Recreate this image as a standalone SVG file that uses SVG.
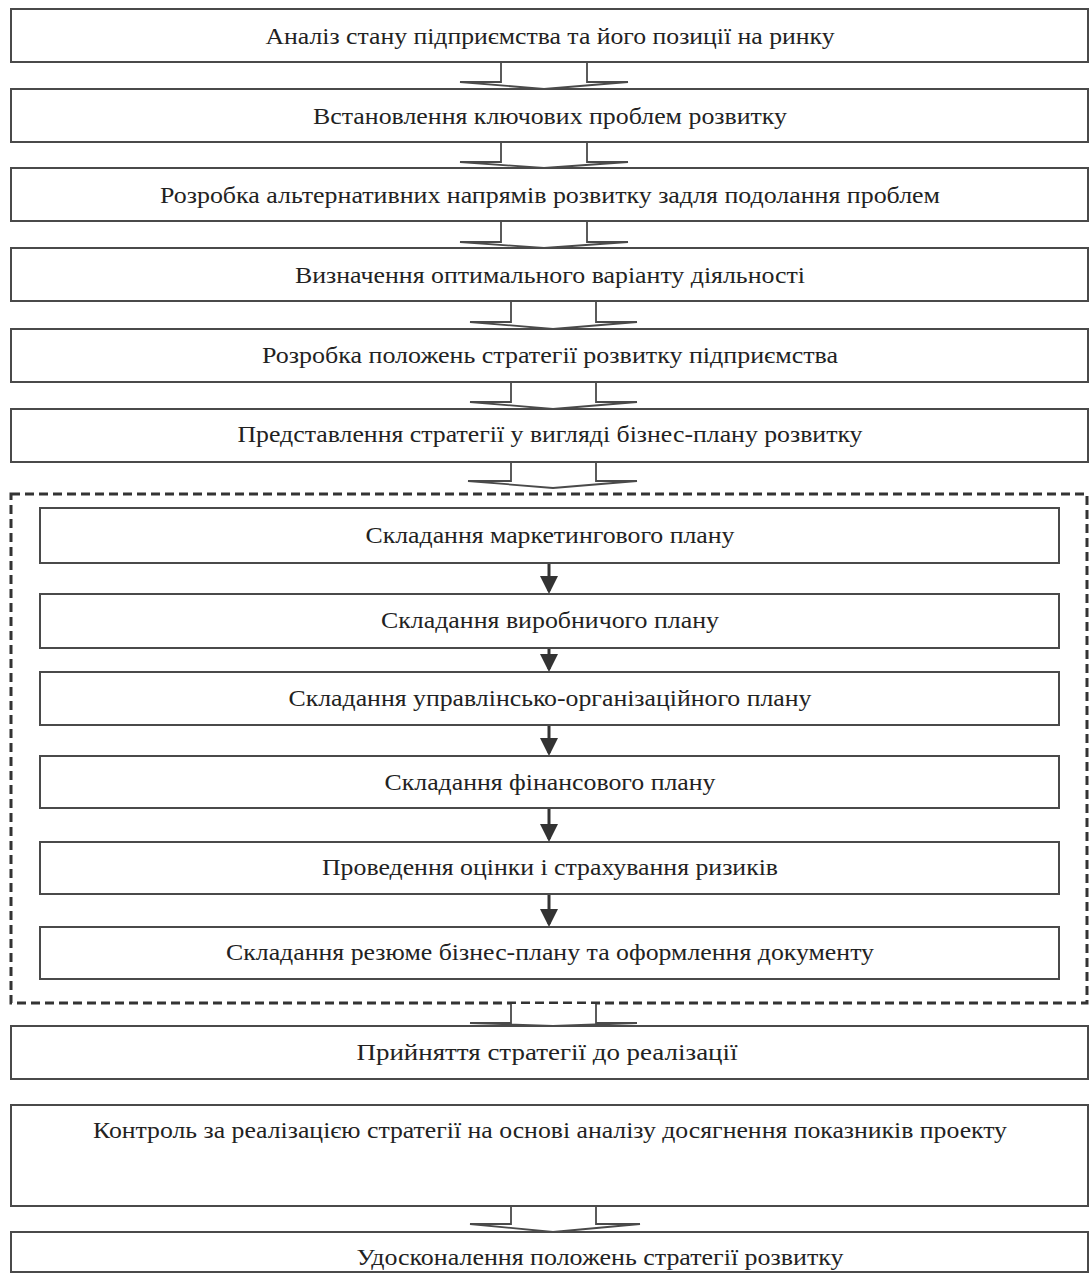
<svg xmlns="http://www.w3.org/2000/svg" width="1089" height="1283" viewBox="0 0 1089 1283">
<style>
.box{fill:#fff;stroke:#4a4a4a;stroke-width:2}
.t{font-family:"Liberation Serif","Times New Roman",serif;font-size:24px;fill:#222;text-anchor:middle;dominant-baseline:central}
.blk{fill:#fff;stroke:#4a4a4a;stroke-width:1.8;stroke-linejoin:miter}
.sa{stroke:#333;stroke-width:3;fill:none}
.dash{fill:none;stroke:#333;stroke-width:3;stroke-dasharray:9 5}
</style>
<defs>
<marker id="ah" markerWidth="6" markerHeight="6" refX="5" refY="3" orient="auto" markerUnits="strokeWidth">
<path d="M0,0 L6,3 L0,6 Z" fill="#333"/>
</marker>
</defs>
<rect width="1089" height="1283" fill="#fff"/>
<g id="group-plan"><rect class="dash" x="11" y="494" width="1076" height="509"/></g>
<g id="connectors">
<path class="blk" d="M501,62 V82 H460 L544,89 L628,82 H587 V62"/>
<path class="blk" d="M501,142 V162 H460 L544,168 L628,162 H587 V142"/>
<path class="blk" d="M501,221 V242 H460 L544,248 L628,242 H587 V221"/>
<path class="blk" d="M511,301 V322 H470 L553,329 L637,322 H596 V301"/>
<path class="blk" d="M511,382 V402 H470 L553,409 L637,402 H596 V382"/>
<path class="blk" d="M511,462 V481 H468 L553,488 L637,481 H596 V462"/>
<path class="blk" d="M511,1004 V1023 H470 L553,1026 L637,1023 H596 V1004"/>
<path class="blk" d="M511,1206 V1224 H470 L553,1232 L640,1224 H596 V1206"/>
<line class="sa" x1="549" y1="564" x2="549" y2="591" marker-end="url(#ah)"/>
<line class="sa" x1="549" y1="649" x2="549" y2="669" marker-end="url(#ah)"/>
<line class="sa" x1="549" y1="726" x2="549" y2="753" marker-end="url(#ah)"/>
<line class="sa" x1="549" y1="809" x2="549" y2="839" marker-end="url(#ah)"/>
<line class="sa" x1="549" y1="895" x2="549" y2="924" marker-end="url(#ah)"/>
</g>
<g id="n1"><rect class="box" x="11" y="9" width="1077" height="53"/><text class="t" x="550" y="36" textLength="569" lengthAdjust="spacingAndGlyphs">Аналіз стану підприємства та його позиції на ринку</text></g>
<g id="n2"><rect class="box" x="11" y="89" width="1077" height="53"/><text class="t" x="550" y="116" textLength="474" lengthAdjust="spacingAndGlyphs">Встановлення ключових проблем розвитку</text></g>
<g id="n3"><rect class="box" x="11" y="168" width="1077" height="53"/><text class="t" x="550" y="195" textLength="780" lengthAdjust="spacingAndGlyphs">Розробка альтернативних напрямів розвитку задля подолання проблем</text></g>
<g id="n4"><rect class="box" x="11" y="248" width="1077" height="53"/><text class="t" x="550" y="275" textLength="510" lengthAdjust="spacingAndGlyphs">Визначення оптимального варіанту діяльності</text></g>
<g id="n5"><rect class="box" x="11" y="329" width="1077" height="53"/><text class="t" x="550" y="355" textLength="576" lengthAdjust="spacingAndGlyphs">Розробка положень стратегії розвитку підприємства</text></g>
<g id="n6"><rect class="box" x="11" y="409" width="1077" height="53"/><text class="t" x="550" y="434" textLength="625" lengthAdjust="spacingAndGlyphs">Представлення стратегії у вигляді бізнес-плану розвитку</text></g>
<g id="p1"><rect class="box" x="40" y="508" width="1019" height="55"/><text class="t" x="550" y="535" textLength="369" lengthAdjust="spacingAndGlyphs">Складання маркетингового плану</text></g>
<g id="p2"><rect class="box" x="40" y="594" width="1019" height="54"/><text class="t" x="550" y="620" textLength="338" lengthAdjust="spacingAndGlyphs">Складання виробничого плану</text></g>
<g id="p3"><rect class="box" x="40" y="672" width="1019" height="53"/><text class="t" x="550" y="698" textLength="523" lengthAdjust="spacingAndGlyphs">Складання управлінсько-організаційного плану</text></g>
<g id="p4"><rect class="box" x="40" y="756" width="1019" height="52"/><text class="t" x="550" y="782" textLength="331" lengthAdjust="spacingAndGlyphs">Складання фінансового плану</text></g>
<g id="p5"><rect class="box" x="40" y="842" width="1019" height="52"/><text class="t" x="550" y="867" textLength="456" lengthAdjust="spacingAndGlyphs">Проведення оцінки і страхування ризиків</text></g>
<g id="p6"><rect class="box" x="40" y="927" width="1019" height="52"/><text class="t" x="550" y="952" textLength="648" lengthAdjust="spacingAndGlyphs">Складання резюме бізнес-плану та оформлення документу</text></g>
<g id="n7"><rect class="box" x="11" y="1026" width="1077" height="53"/><text class="t" x="547" y="1052" textLength="381" lengthAdjust="spacingAndGlyphs">Прийняття стратегії до реалізації</text></g>
<g id="n8"><rect class="box" x="11" y="1105" width="1077" height="101"/><text class="t" x="550" y="1130" textLength="914" lengthAdjust="spacingAndGlyphs">Контроль за реалізацією стратегії на основі аналізу досягнення показників проекту</text></g>
<g id="n9"><rect class="box" x="11" y="1232" width="1077" height="40"/><text class="t" x="600" y="1257" textLength="487" lengthAdjust="spacingAndGlyphs">Удосконалення положень стратегії розвитку</text></g>
</svg>
